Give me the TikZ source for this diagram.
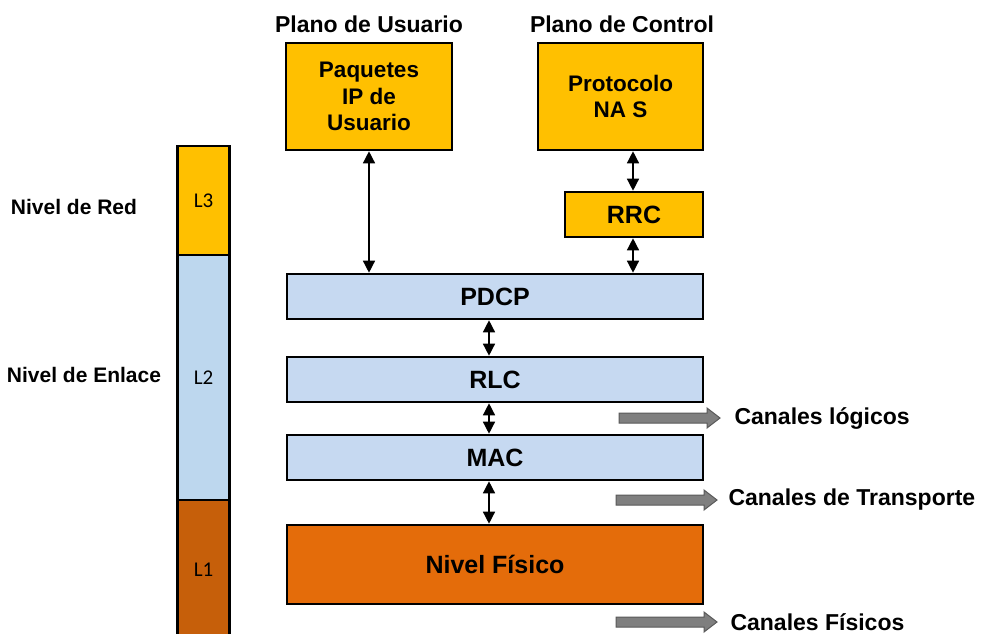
\documentclass[tikz,border=0pt]{standalone}
\usepackage{fontspec}
\setmainfont{Liberation Sans}
\newfontfamily\lblfont{Carlito}
\usetikzlibrary{arrows.meta}
\begin{document}
\begin{tikzpicture}[x=1pt,y=-1pt,
  every node/.style={font=\bfseries},
  layerbox/.style={draw=black,line width=2.6pt,minimum width=416pt,minimum height=45pt,inner sep=0pt,font=\fontsize{25}{30}\selectfont\bfseries},
  bluebox/.style={layerbox,fill=blue2},
  yellowbox/.style={draw=black,line width=2.6pt,fill=gold1,inner sep=0pt,align=center,font=\fontsize{22.5}{26.5}\selectfont\bfseries},
  barseg/.style={draw=black,line width=2.4pt,minimum width=52pt,inner sep=0pt,font=\lblfont\fontsize{21}{24}\selectfont},
  sidelbl/.style={font=\fontsize{21}{24}\selectfont\bfseries},
  chanlbl/.style={anchor=west,font=\fontsize{23}{26}\selectfont\bfseries},
  dbl/.style={line width=1.4pt,{Triangle[length=12pt,width=12pt]}-{Triangle[length=12pt,width=12pt]}},
  grayarrow/.style={fill=gray50,draw=gray35,line width=1pt},
]
\definecolor{gold1}{HTML}{FFC000}
\definecolor{blue2}{HTML}{C6D9F1}
\definecolor{blue3}{HTML}{BDD7EE}
\definecolor{orange1}{HTML}{E46C0A}
\definecolor{rust1}{HTML}{C65F0A}
\definecolor{gray50}{HTML}{7F7F7F}
\definecolor{gray35}{HTML}{595959}
\useasboundingbox[fill=white] (0,0) rectangle (982,634);

% plane titles
\node[font=\fontsize{23}{26}\selectfont\bfseries] (tu) at (369,24) {Plano de Usuario};
\node[font=\fontsize{23}{26}\selectfont\bfseries] (tc) at (622,24) {Plano de Control};

% upper layer boxes
\node[yellowbox,minimum width=166pt,minimum height=107pt] (ip) at (369,96.5) {Paquetes\\IP de\\Usuario};
\node[yellowbox,minimum width=165pt,minimum height=107pt] (nas) at (620.5,96.5) {Protocolo\\NA S};
\node[yellowbox,minimum width=138pt,minimum height=45pt,font=\fontsize{25}{30}\selectfont\bfseries] (rrc) at (634,214.5) {RRC};

% protocol stack
\node[bluebox] (pdcp) at (495,296.5) {PDCP};
\node[bluebox] (rlc) at (495,379.5) {RLC};
\node[bluebox] (mac) at (495,457.5) {MAC};
\node[layerbox,fill=orange1,minimum height=79pt] (phy) at (495,564.5) {Nivel Físico};

% vertical links
\coordinate (cu) at (369,0);
\coordinate (cc) at (633,0);
\coordinate (cm) at (489,0);
\draw[dbl] (ip.south -| cu) -- (pdcp.north -| cu);
\draw[dbl] (nas.south -| cc) -- (rrc.north -| cc);
\draw[dbl] (rrc.south -| cc) -- (pdcp.north -| cc);
\draw[dbl] (pdcp.south -| cm) -- (rlc.north -| cm);
\draw[dbl] (rlc.south -| cm) -- (mac.north -| cm);
\draw[dbl] (mac.south -| cm) -- (phy.north -| cm);

% channel arrows
\draw[grayarrow] (619,413) -- (707,413) -- (707,408) -- (720,418) -- (707,428) -- (707,423) -- (619,423) -- cycle;
\draw[grayarrow] (616,495) -- (704,495) -- (704,490) -- (717,500) -- (704,510) -- (704,505) -- (616,505) -- cycle;
\draw[grayarrow] (616,617) -- (704,617) -- (704,612) -- (717,622) -- (704,632) -- (704,627) -- (616,627) -- cycle;
\node[chanlbl] (cl) at (731,418) {Canales lógicos};
\node[chanlbl] (ct) at (725,500) {Canales de Transporte};
\node[chanlbl] (cf) at (727,622) {Canales Físicos};

% layer bar
\node[barseg,fill=gold1,minimum height=109pt] (l3) at (203.5,200.5) {L3};
\node[barseg,fill=blue3,minimum height=245pt] (l2) at (203.5,377.5) {L2};
\node[barseg,fill=rust1,minimum height=140pt] (l1) at (203.5,570) {L1};

% level names
\node[sidelbl] (red) at (74,207) {Nivel de Red};
\node[sidelbl] (enl) at (84,375) {Nivel de Enlace};
\end{tikzpicture}
\end{document}
